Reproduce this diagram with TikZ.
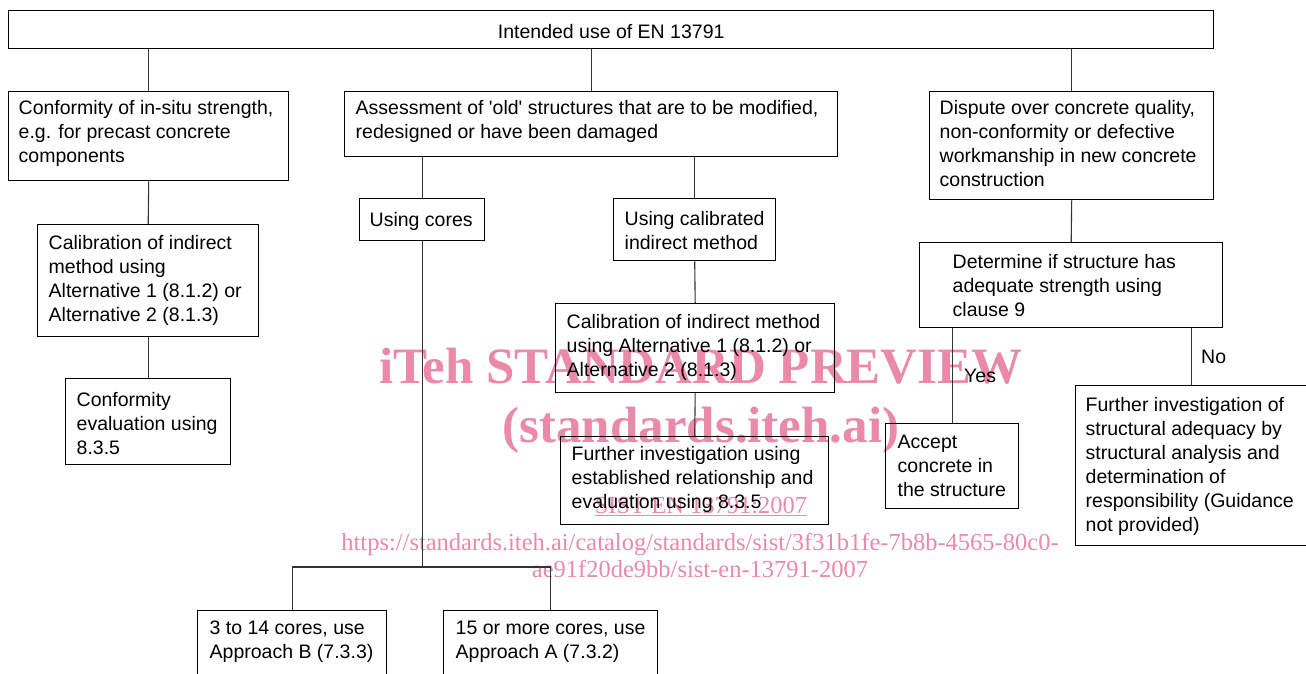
\documentclass[tikz,border=0pt]{standalone}
\usepackage{fontspec}
\setmainfont{Liberation Sans}
\newfontfamily\wmfont{Liberation Serif}
\definecolor{wm}{RGB}{234,137,168}
% left-aligned box content: #1 left pad, #2 width, #3 height, #4 top skip, #5 lines
\newcommand\bxl[5]{\vbox to #3pt{\vskip#4pt\hbox to #2pt{\hskip#1pt\begin{tabular}[t]{@{}l@{}}#5\end{tabular}\hss}\vss}}
% centred box content: #1 width, #2 height, #3 top skip, #4 lines
\newcommand\bxc[4]{\vbox to #2pt{\vskip#3pt\hbox to #1pt{\hss\begin{tabular}[t]{@{}c@{}}#4\end{tabular}\hss}\vss}}
\begin{document}
\begin{tikzpicture}[x=1pt,y=-1pt,
  box/.style={draw=black, line width=1.4pt, inner sep=0pt, anchor=north west,
    font=\fontsize{19.5pt}{24pt}\selectfont},
  conn/.style={draw=black!80, line width=1.1pt},
  lbl/.style={anchor=base west, inner sep=0pt, font=\fontsize{19.5pt}{24pt}\selectfont},
  wmbig/.style={text=wm, anchor=base, inner sep=0pt, font=\wmfont\bfseries\fontsize{51pt}{51pt}\selectfont},
  wmsmall/.style={text=wm, anchor=base, inner sep=0pt, font=\wmfont\fontsize{24.5pt}{25pt}\selectfont}]
\useasboundingbox (0,0) rectangle (1306,673);
\clip (0,0) rectangle (1306,673);

% watermark
\node[wmbig] (wm1) at (701,383) {iTeh STANDARD PREVIEW};
\node[wmbig] (wm2) at (701,442) {(standards.iteh.ai)};
\node[wmsmall] (wm3) at (701,513) {\underline{SIST EN 13791:2007}};
\node[wmsmall] (wm4) at (700,550) {https://standards.iteh.ai/catalog/standards/sist/3f31b1fe-7b8b-4565-80c0-};
\node[wmsmall] (wm5) at (700,577) {ae91f20de9bb/sist-en-13791-2007};

% boxes
\node[box] (top) at (8,10) {\bxc{1205}{38}{11.2}{Intended use of EN 13791}};

\node[box] (A) at (8,91) {\bxl{10}{280}{89}{6.2}{Conformity of in-situ strength,\\e.g. for precast concrete\\components}};
\node[box] (B) at (344,91) {\bxl{11}{493}{65}{6.2}{Assessment of \textquotesingle old\textquotesingle\ structures that are to be modified,\\redesigned or have been damaged}};
\node[box] (C) at (929,91) {\bxl{10}{284}{108}{6.2}{Dispute over concrete quality,\\non-conformity or defective\\workmanship in new concrete\\construction}};

\node[box] (A1) at (37,224) {\bxl{11}{221}{112}{8.2}{Calibration of indirect\\method using\\Alternative 1 (8.1.2) or\\Alternative 2 (8.1.3)}};
\node[box] (A2) at (65,378) {\bxl{11}{165}{86}{11.2}{Conformity\\evaluation using\\8.3.5}};

\node[box] (B1) at (359,198) {\bxl{10}{125}{42}{11.2}{Using cores}};
\node[box] (B2) at (613,198) {\bxl{11}{162}{62}{10.2}{Using calibrated\\indirect method}};
\node[box] (B3) at (555,303) {\bxl{11}{279}{89}{8.2}{Calibration of indirect method\\using Alternative 1 (8.1.2) or\\Alternative 2 (8.1.3)}};
\node[box] (B4) at (560,436) {\bxl{11}{268}{88}{7.2}{Further investigation using\\established relationship and\\evaluation using 8.3.5}};
\node[box] (B5) at (197,610) {\bxl{12}{189}{100}{7.2}{3 to 14 cores, use\\Approach B (7.3.3)}};
\node[box] (B6) at (443,610) {\bxl{12}{214}{100}{7.2}{15 or more cores, use\\Approach A (7.3.2)}};

\node[box] (C1) at (919,242) {\bxl{33}{303}{85}{9.2}{Determine if structure has\\adequate strength using\\clause 9}};
\node[box] (C2) at (885,423) {\bxl{12}{133}{85}{8.2}{Accept\\concrete in\\the structure}};
\node[box] (C3) at (1075,385) {\bxl{10}{231}{160}{8.9}{Further investigation of\\structural adequacy by\\structural analysis and\\determination of\\responsibility (Guidance\\not provided)}};

% connectors
\draw[conn] (top.south -| A.north) -- (A.north);
\draw[conn] (top.south -| B.north) -- (B.north);
\draw[conn] (top.south -| C.north) -- (C.north);
\draw[conn] (A.south) -- (A1.north);
\draw[conn] (A1.south) -- (A2.north);
\draw[conn] (B.south -| B1.north) -- (B1.north);
\draw[conn] (B.south -| B2.north) -- (B2.north);
\draw[conn] (B2.south) -- (B3.north);
\draw[conn] (B3.south) -- (B4.north);
\coordinate (split) at (B1.south |- 0,567);
\draw[conn] (B1.south) -- (split);
\draw[conn] (B5.north) |- (split) -| (B6.north);
\draw[conn] (C.south) -- (C1.north);
\draw[conn] (C1.south -| C2.north) -- (C2.north);
\draw[conn] (C1.south -| C3.north) -- (C3.north);

% labels
\node[lbl] (yes) at (964,382) {Yes};
\node[lbl] (no) at (1201,363) {No};
\end{tikzpicture}
\end{document}
